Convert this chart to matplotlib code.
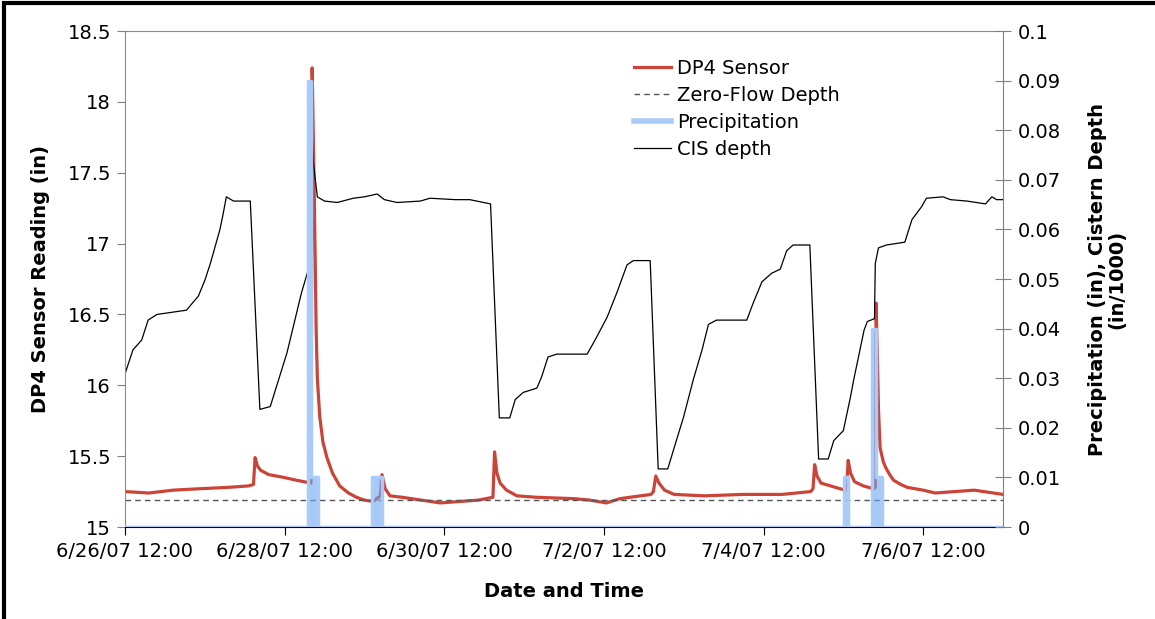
import matplotlib
matplotlib.use("Agg")
import matplotlib.pyplot as plt
from matplotlib.patches import Rectangle

# Data (x = days since 6/26/07 12:00)

red_day = [0.00, 0.30, 0.60, 0.93, 1.30, 1.55, 1.61, 1.63, 1.66, 1.70, 1.80, 1.99, 2.15, 2.33,
           2.345, 2.37, 2.38, 2.395, 2.41, 2.44, 2.48, 2.53, 2.60, 2.69, 2.80, 2.90, 3.00, 3.11,
           3.20, 3.22, 3.26, 3.32, 3.47, 3.71, 3.95, 4.19, 4.43, 4.61, 4.63, 4.66, 4.70, 4.78,
           4.91, 5.15, 5.63, 5.82, 6.03, 6.20, 6.59, 6.62, 6.65, 6.69, 6.76, 6.88, 7.26, 7.74,
           8.23, 8.59, 8.62, 8.64, 8.67, 8.72, 8.90, 9.02, 9.04, 9.06, 9.09, 9.14, 9.25, 9.38,
           9.40, 9.41, 9.43, 9.44, 9.46, 9.50, 9.53, 9.58, 9.63, 9.72, 9.80, 10.00, 10.15, 10.64, 11.00]
dp4_sensor = [15.25, 15.24, 15.26, 15.27, 15.28, 15.29, 15.30, 15.49, 15.43, 15.40, 15.37, 15.35, 15.33, 15.31,
              18.24, 17.40, 17.00, 16.40, 16.05, 15.78, 15.60, 15.49, 15.38, 15.29, 15.24, 15.21, 15.19, 15.18,
              15.22, 15.37, 15.27, 15.22, 15.21, 15.19, 15.17, 15.18, 15.19, 15.21, 15.53, 15.38, 15.31, 15.26,
              15.22, 15.21, 15.20, 15.19, 15.17, 15.20, 15.23, 15.25, 15.36, 15.31, 15.26, 15.23, 15.22, 15.23,
              15.23, 15.25, 15.27, 15.44, 15.36, 15.31, 15.28, 15.26, 15.27, 15.47, 15.38, 15.32, 15.29, 15.27,
              15.28, 16.58, 16.10, 15.83, 15.56, 15.46, 15.42, 15.37, 15.33, 15.30, 15.28, 15.26, 15.24, 15.26, 15.23]

cis_day = [0.00, 0.10, 0.21, 0.29, 0.40, 0.77, 0.92, 1.00, 1.07, 1.13, 1.19, 1.23, 1.27, 1.36, 1.57,
           1.69, 1.82, 2.03, 2.21, 2.32, 2.335, 2.345, 2.36, 2.41, 2.50, 2.66, 2.86, 3.00, 3.16, 3.25,
           3.41, 3.70, 3.82, 4.14, 4.32, 4.58, 4.69, 4.82, 4.89, 4.99, 5.16, 5.22, 5.30, 5.41, 5.79,
           5.89, 6.04, 6.16, 6.29, 6.37, 6.58, 6.68, 6.80, 6.87, 7.00, 7.12, 7.23, 7.31, 7.41, 7.79,
           7.87, 7.98, 8.10, 8.21, 8.29, 8.37, 8.58, 8.69, 8.81, 8.88, 9.00, 9.09, 9.13, 9.26, 9.30,
           9.39, 9.40, 9.44, 9.54, 9.77, 9.86, 9.98, 10.04, 10.25, 10.34, 10.55, 10.78, 10.86, 10.92, 11.00]
cis_depth = [16.08, 16.25, 16.32, 16.46, 16.50, 16.53, 16.63, 16.74, 16.86, 16.98, 17.10, 17.21, 17.33, 17.30, 17.30,
             15.83, 15.85, 16.23, 16.65, 16.86, 16.95, 17.76, 17.57, 17.33, 17.30, 17.29, 17.32, 17.33, 17.35, 17.31,
             17.29, 17.30, 17.32, 17.31, 17.31, 17.28, 15.77, 15.77, 15.90, 15.95, 15.98, 16.06, 16.20, 16.22, 16.22,
             16.32, 16.48, 16.65, 16.85, 16.88, 16.88, 15.41, 15.41, 15.54, 15.78, 16.04, 16.25, 16.43, 16.46, 16.46,
             16.58, 16.73, 16.79, 16.82, 16.95, 16.99, 16.99, 15.48, 15.48, 15.61, 15.68, 15.92, 16.04, 16.39, 16.45,
             16.47, 16.86, 16.97, 16.99, 17.01, 17.17, 17.26, 17.32, 17.33, 17.31, 17.30, 17.28, 17.33, 17.31, 17.31]

zero_flow_day = [0.0, 11.0]
zero_flow_depth = [15.19, 15.19]

precip_day = [0.00, 2.29, 2.33, 2.42, 3.09, 3.22, 9.01, 9.06, 9.36, 9.41, 9.48, 11.0]
precip_in = [0.00, 0.09, 0.01, 0.00, 0.01, 0.00, 0.01, 0.00, 0.04, 0.01, 0.00, 0.00]

tick_days = [0, 2, 4, 6, 8, 10]
tick_labels = ["6/26/07 12:00", "6/28/07 12:00", "6/30/07 12:00",
               "7/2/07 12:00", "7/4/07 12:00", "7/6/07 12:00"]

# Plot settings
red = "#cc4438"
blue_line = "#a9cbf7"
blue_fill = "#6ba6f1"
fs = 14

fig = plt.figure(figsize=(11.55, 6.19), dpi=100)
ax = fig.add_axes([0.1082, 0.1486, 0.7602, 0.8013])
ax2 = ax.twinx()

l1, = ax.plot(red_day, dp4_sensor, color=red, lw=2.3, label="DP4 Sensor")
l2, = ax.plot(zero_flow_day, zero_flow_depth, color="#555555", lw=1.0, ls=(0, (4, 3)),
              label="Zero-Flow Depth")
l4, = ax.plot(cis_day, cis_depth, color="black", lw=0.9, label="CIS depth")

l3, = ax2.plot(precip_day, precip_in, drawstyle="steps-post", color=blue_line, lw=2.5,
               label="Precipitation")
ax2.fill_between(precip_day, precip_in, step="post", color=blue_fill, alpha=0.6, lw=0)

ax.set_xlim(0, 11)
ax.set_ylim(15, 18.5)
ax2.set_ylim(0, 0.1)

ax.set_xticks(tick_days)
ax.set_xticklabels(tick_labels)
ax.set_yticks([15 + 0.5 * i for i in range(8)])
ax.set_yticklabels([f"{15 + 0.5 * i:g}" for i in range(8)])
ax2.set_yticks([round(0.01 * i, 2) for i in range(11)])
ax2.set_yticklabels([f"{round(0.01 * i, 2):g}" for i in range(11)])

ax.tick_params(axis="y", direction="out", length=6, color="#808080", labelsize=fs, pad=4)
ax.tick_params(axis="x", direction="out", length=6, color="black", labelsize=fs, pad=5)
ax2.tick_params(axis="y", direction="inout", length=11, color="#808080", labelsize=fs, pad=5)

for s in ["left", "top"]:
    ax.spines[s].set_color("#8a8a8a")
ax.spines["bottom"].set_color("black")
ax.spines["right"].set_visible(False)
for s in ["left", "top", "bottom"]:
    ax2.spines[s].set_visible(False)
ax2.spines["right"].set_color("#808080")

ax.set_xlabel("Date and Time", fontsize=fs, fontweight="bold")
ax.xaxis.set_label_coords(0.5, -0.11)
ax.set_ylabel("DP4 Sensor Reading (in)", fontsize=fs, fontweight="bold")
ax.yaxis.set_label_coords(-0.085, 0.5)
ax2.set_ylabel("Precipitation (in), Cistern Depth\n(in/1000)", fontsize=fs,
               fontweight="bold", linespacing=1.0)
ax2.yaxis.set_label_coords(1.097, 0.5)

leg = ax2.legend([l1, l2, l3, l4], ["DP4 Sensor", "Zero-Flow Depth", "Precipitation", "CIS depth"],
                 loc="upper left", bbox_to_anchor=(0.58, 0.943), frameon=False, fontsize=fs,
                 borderaxespad=0, borderpad=0, handlelength=1.9, handletextpad=0.3,
                 labelspacing=0.4)
leg.legend_handles[2].set_linewidth(4)

# outer frame (top and left edges visible)
fig.patches.append(Rectangle((0.0035, -1), 5, 1.995, transform=fig.transFigure,
                             fill=False, edgecolor="black", lw=3))

plt.savefig("out.png", dpi=100)
